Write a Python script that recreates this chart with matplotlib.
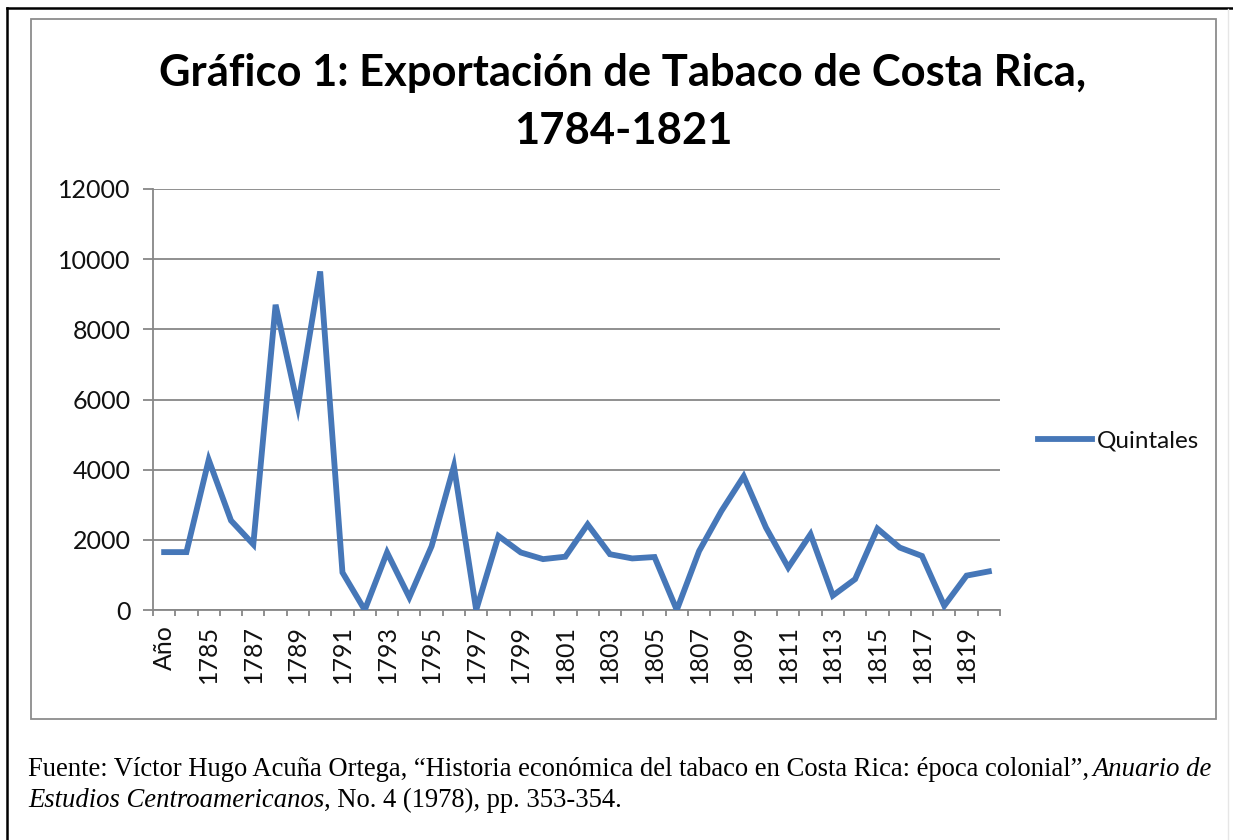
import matplotlib
matplotlib.use('Agg')
import matplotlib.pyplot as plt
from matplotlib.lines import Line2D
from matplotlib.patches import Rectangle
from matplotlib.ticker import FixedLocator

# ---------------- data ----------------
categories = ['Año'] + [str(y) for y in range(1784, 1821)]
quintales = [1650, 1650, 4280, 2550, 1870, 8700, 5800, 9650, 1070, 0,
             1640, 360, 1820, 4100, 0, 2110, 1640, 1450, 1520, 2440,
             1590, 1470, 1510, 0, 1680, 2820, 3810, 2350, 1210, 2160,
             410, 880, 2320, 1780, 1540, 120, 980, 1100]
y_ticks = [0, 2000, 4000, 6000, 8000, 10000, 12000]
series_name = 'Quintales'
title_lines = ['Gráfico 1: Exportación de Tabaco de Costa Rica,', '1784-1821']
caption_line1 = [('Fuente: Víctor Hugo Acuña Ortega, “Historia económica del tabaco en Costa Rica: época colonial”,', 'normal'),
                 ('Anuario de', 'italic')]
caption_line2 = [('Estudios Centroamericanos', 'italic'),
                 (', No. 4 (1978), pp. 353-354.', 'normal')]

W, H = 1233, 840
fig = plt.figure(figsize=(W / 100, H / 100), dpi=100)
fig.patch.set_facecolor('white')

def fx(px):
    return px / W

def fy(py):
    return 1 - py / H

# ---------------- frames ----------------
fig.add_artist(Line2D([fx(7), fx(7)], [fy(8), fy(840)], color='black', lw=1.8))
fig.add_artist(Line2D([fx(7), fx(1233)], [fy(8), fy(8)], color='black', lw=1.8))
fig.add_artist(Line2D([fx(1228), fx(1228)], [fy(9), fy(840)], color='#e6e6e6', lw=1.0))
fig.add_artist(Rectangle((fx(31), fy(719)), fx(1216) - fx(31), fy(19) - fy(719),
                         fill=False, edgecolor='#8c8c8c', lw=1.3))

# ---------------- axes ----------------
ax = fig.add_axes([fx(153), fy(610), fx(1000) - fx(153), fy(189) - fy(610)])
x = list(range(len(categories)))
ax.plot(x, quintales, color='#4677B8', lw=4.2, solid_joinstyle='miter', label=series_name, zorder=3)
ax.set_xlim(-0.5, len(categories) - 0.5)
ax.set_ylim(0, 12000)

grid_c = '#878787'
for s in ['top', 'right']:
    ax.spines[s].set_visible(False)
for s in ['left', 'bottom']:
    ax.spines[s].set_color(grid_c)
    ax.spines[s].set_linewidth(1.3)

tick_fs = 18
ax.set_yticks(y_ticks)
ax.set_yticklabels([str(v) for v in y_ticks], fontsize=tick_fs, family='Lato', color='#111111')
ax.yaxis.grid(True, color=grid_c, lw=1.3)
ax.set_axisbelow(True)
ax.tick_params(axis='y', length=7, width=1.3, color=grid_c, pad=9)

label_idx = x[::2]
ax.set_xticks(label_idx)
ax.set_xticklabels([categories[i] for i in label_idx], rotation=90, fontsize=tick_fs,
                   family='Lato', color='#111111', va='top', ha='center')
ax.tick_params(axis='x', which='major', length=0, pad=11)
ax.xaxis.set_minor_locator(FixedLocator([i - 0.5 for i in range(len(categories) + 1)]))
ax.tick_params(axis='x', which='minor', length=4, width=1.3, color=grid_c)

leg = ax.legend(loc='center left', bbox_to_anchor=(fx(1028), fy(441)),
                bbox_transform=fig.transFigure, frameon=False,
                prop={'family': 'Lato', 'size': 17.5}, handlelength=2.25,
                handletextpad=0.2, borderaxespad=0)
for t in leg.get_texts():
    t.set_color('#111111')

# ---------------- title ----------------
renderer = fig.canvas.get_renderer()
t1 = fig.text(fx(623), fy(73), title_lines[0], ha='center', va='center',
              fontsize=30, fontweight='bold', family='Lato', color='black')
w1 = t1.get_window_extent(renderer).width
fs_title = 30 * 925 / w1
t1.set_fontsize(fs_title)
fig.text(fx(623), fy(131), title_lines[1], ha='center', va='center',
         fontsize=fs_title, fontweight='bold', family='Lato', color='black')

# ---------------- caption ----------------
serif = 'Liberation Serif'

def width_of(s, style, fs):
    t = fig.text(0, 0, s, fontsize=fs, family=serif, style=style)
    w = t.get_window_extent(renderer).width
    t.remove()
    return w

def space_w(fs):
    return width_of('A A', 'normal', fs) - width_of('AA', 'normal', fs)

base_fs = 15
total = sum(width_of(s, st, base_fs) for s, st in caption_line1) + space_w(base_fs)
fs_cap = base_fs * 1190 / total

def draw_line(pieces, x0, ybase, fs):
    xp = x0
    sp = space_w(fs)
    for i, (s, st) in enumerate(pieces):
        t = fig.text(fx(xp), fy(ybase), s, fontsize=fs, family=serif, style=st,
                     ha='left', va='baseline', color='black')
        xp += t.get_window_extent(renderer).width
        if i < len(pieces) - 1 and not pieces[i + 1][0].startswith(','):
            xp += sp

draw_line(caption_line1, 28, 776, fs_cap)
draw_line(caption_line2, 28, 807, fs_cap)

fig.savefig('out.png', dpi=100, facecolor='white')
